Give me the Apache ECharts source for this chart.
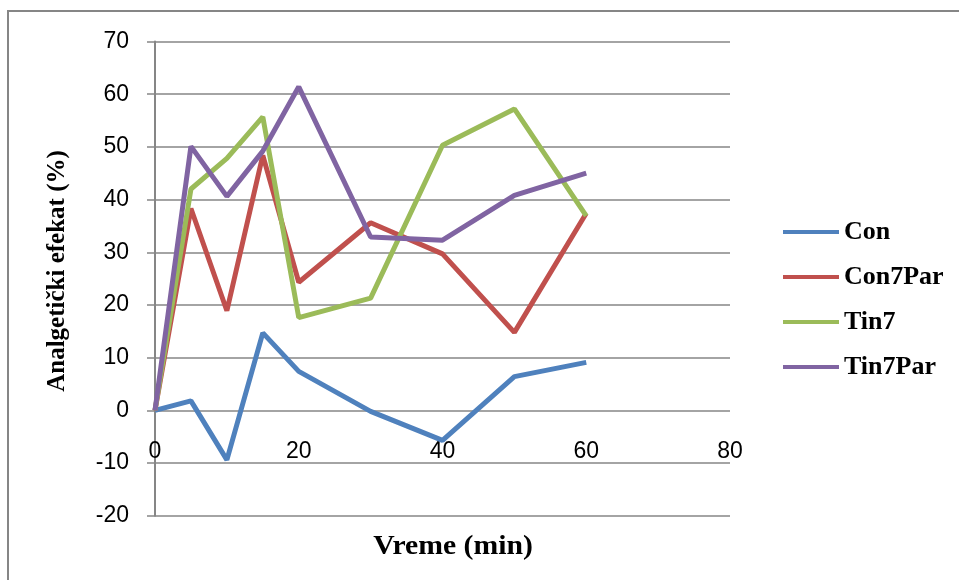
<!DOCTYPE html>
<html>
<head>
<meta charset="utf-8">
<script src="https://cdn.jsdelivr.net/npm/echarts@6/dist/echarts.min.js"></script>
<style>
html,body{margin:0;padding:0;background:#fff;}
#chart{width:959px;height:580px;}
</style>
</head>
<body>
<div id="chart"></div>
<script>
var times = [0, 5, 10, 15, 20, 30, 40, 50, 60];
var seriesNames = ['Con', 'Con7Par', 'Tin7', 'Tin7Par'];
var con      = [0, 1.8, -9.4, 14.7, 7.4, -0.2, -5.7, 6.4, 9.1];
var con7Par  = [0, 38.3, 18.9, 48.4, 24.3, 35.6, 29.7, 14.8, 37.4];
var tin7     = [0, 42.0, 47.8, 55.7, 17.6, 21.3, 50.3, 57.2, 36.9];
var tin7Par  = [0, 50.1, 40.6, 49.2, 61.4, 32.9, 32.3, 40.8, 45.0];
var xTicks = [0, 20, 40, 60, 80];
var yTicks = [-20, -10, 0, 10, 20, 30, 40, 50, 60, 70];

var values = [con, con7Par, tin7, tin7Par];
var colors = ['#4F81BD', '#C0504D', '#9BBB59', '#8064A2'];

function pairs(arr) {
  return times.map(function (t, i) { return [t, arr[i]]; });
}

var chart = echarts.init(document.getElementById('chart'), null, {renderer: 'canvas'});
var option = {
  animation: false,
  backgroundColor: '#ffffff',
  grid: {left: 155, right: 229, top: 41.5, bottom: 64.3, containLabel: false},
  xAxis: {
    type: 'value',
    position: 'bottom',
    offset: -106.4,
    min: xTicks[0],
    max: xTicks[xTicks.length - 1],
    interval: 20,
    axisLine: {show: false, onZero: false},
    axisTick: {show: false},
    splitLine: {show: false},
    axisLabel: {
      margin: 31,
      color: '#000',
      fontFamily: 'Liberation Sans',
      fontSize: 23,
      showMinLabel: true,
      showMaxLabel: true
    }
  },
  yAxis: {
    type: 'value',
    min: yTicks[0],
    max: yTicks[yTicks.length - 1],
    interval: 10,
    axisLine: {show: true, onZero: false, lineStyle: {color: '#868686', width: 2}},
    axisTick: {show: true, inside: false, length: 8, lineStyle: {color: '#868686', width: 1.5}},
    splitLine: {show: true, lineStyle: {color: '#868686', width: 1.5}},
    axisLabel: {
      margin: 26,
      color: '#000',
      fontFamily: 'Liberation Sans',
      fontSize: 23
    }
  },
  legend: {
    orient: 'vertical',
    left: 778,
    top: 214,
    itemWidth: 56,
    itemHeight: 4,
    itemGap: 19,
    icon: 'rect',
    textStyle: {
      fontFamily: 'Liberation Serif',
      fontWeight: 'bold',
      fontSize: 26,
      color: '#000'
    },
    data: seriesNames
  },
  series: seriesNames.map(function (name, i) {
    return {
      name: name,
      type: 'line',
      data: pairs(values[i]),
      showSymbol: false,
      symbol: 'none',
      lineStyle: {width: 5, color: colors[i]},
      itemStyle: {color: colors[i]},
      z: 3 + i
    };
  }),
  graphic: [
    {
      type: 'rect',
      shape: {x: 8, y: 11, width: 1100, height: 1000},
      style: {fill: 'none', stroke: '#868686', lineWidth: 2},
      silent: true
    },
    {
      type: 'text',
      x: 453, y: 547,
      scaleX: 1.1,
      style: {
        text: 'Vreme (min)',
        font: 'bold 27px "Liberation Serif"',
        fill: '#000',
        align: 'center',
        verticalAlign: 'middle'
      }
    },
    {
      type: 'text',
      x: 58, y: 271,
      rotation: Math.PI / 2,
      style: {
        text: 'Analgetički efekat (%)',
        font: 'bold 25px "Liberation Serif"',
        fill: '#000',
        align: 'center',
        verticalAlign: 'middle'
      }
    }
  ]
};
chart.setOption(option);
</script>
</body>
</html>
